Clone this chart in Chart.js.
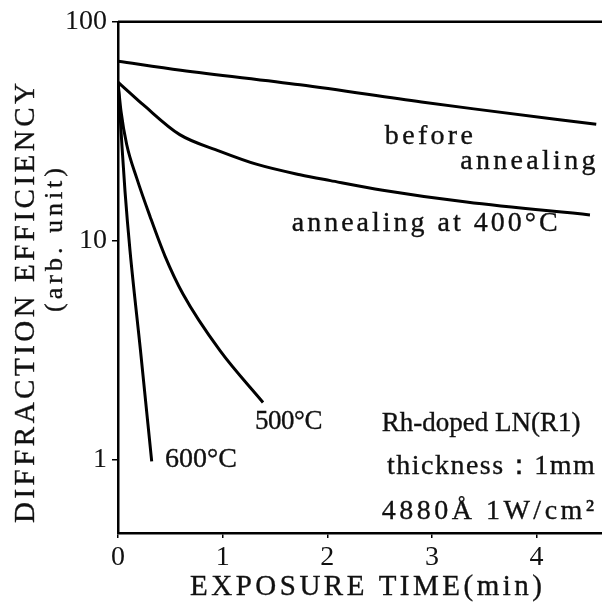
<!DOCTYPE html>
<html>
<head>
<meta charset="utf-8">
<script src="https://cdn.jsdelivr.net/npm/chart.js@4.4.0/dist/chart.umd.min.js"></script>
<style>
  html, body { margin: 0; padding: 0; background: #fff; }
  #wrap { width: 602px; height: 605px; }
</style>
</head>
<body>
<div id="wrap"><canvas id="decay" width="602" height="605"></canvas></div>
<script>
// exposure time (min) vs. diffraction efficiency (arb. unit)
const beforeTime = [0, 0.6, 1.74, 2.9, 3.4, 4.57];
const beforeEff  = [66, 60, 51.5, 43, 40, 34];
const time400 = [0, 0.1, 0.24, 0.59, 0.975, 1.33, 1.74, 2.03, 2.53, 3.33, 4.51];
const eff400  = [53, 48, 41.8, 30.5, 25.6, 22.3, 20.0, 18.8, 17.0, 15.0, 13.1];
const time500 = [0, 0.029, 0.083, 0.179, 0.306, 0.449, 0.621, 0.975, 1.386];
const eff500  = [53, 38.9, 27.5, 19.3, 12.9, 8.5, 5.7, 3.14, 1.82];
const time600 = [0, 0.019, 0.038, 0.067, 0.115, 0.215, 0.322];
const eff600  = [53, 38.1, 27.0, 16.8, 8.97, 3.14, 0.98];

const xTicks = [0, 1, 2, 3, 4];
const yTicks = [1, 10, 100];

const SERIF = '"Liberation Serif", "DejaVu Serif", serif';

// curve captions, anchored in data units (time, efficiency)
const notes = [
  { text: 'before', t: 2.55, v: 29.9, size: 28, gap: 3.3 },
  { text: 'annealing', t: 3.27, v: 23.0, size: 28, gap: 3.3 },
  { text: 'annealing at 400°C', t: 1.66, v: 11.9, size: 28, gap: 3 },
  { text: '500°C', t: 1.31, v: 1.48, size: 27, gap: -0.5 },
  { text: '600°C', t: 0.45, v: 1.0, size: 28, gap: 0 },
  { text: 'Rh-doped LN(R1)', t: 2.52, v: 1.46, size: 27, gap: 0 },
  { text: 'thickness：1mm', t: 2.57, v: 0.925, size: 28, gap: 1.5 },
  { text: '4880Å 1W/cm²', t: 2.52, v: 0.577, size: 28, gap: 3.5 }
];

function pts(xs, ys) {
  return xs.map((x, i) => ({ x: x, y: ys[i] }));
}

// letter-spaced text, one glyph at a time; x is the left edge or the centre
function spaced(ctx, str, x, y, gap, centred) {
  const chars = Array.from(str);
  const widths = chars.map(c => ctx.measureText(c).width);
  const total = widths.reduce((a, b) => a + b, 0) + gap * (chars.length - 1);
  let cx = centred ? x - total / 2 : x;
  ctx.textAlign = 'left';
  chars.forEach((c, i) => {
    ctx.fillText(c, cx, y);
    ctx.strokeText(c, cx, y);   // hairline so the serif reads a bit heavier
    cx += widths[i] + gap;
  });
}

const textLayer = {
  id: 'textLayer',
  afterDraw(chart) {
    const { ctx, chartArea } = chart;
    const xs = chart.scales.x, ys = chart.scales.y;
    ctx.save();

    // top edge of the frame
    ctx.strokeStyle = '#000';
    ctx.lineWidth = 2.5;
    ctx.beginPath();
    ctx.moveTo(chartArea.left, chartArea.top);
    ctx.lineTo(chartArea.right, chartArea.top);
    ctx.stroke();

    ctx.fillStyle = '#111';
    ctx.strokeStyle = '#111';
    ctx.lineWidth = 0.35;
    ctx.textBaseline = 'middle';
    notes.forEach(n => {
      ctx.font = n.size + 'px ' + SERIF;
      spaced(ctx, n.text, xs.getPixelForValue(n.t), ys.getPixelForValue(n.v), n.gap, false);
    });

    // axis titles
    ctx.font = '29px ' + SERIF;
    spaced(ctx, 'EXPOSURE TIME(min)', 366, 587, 3.5, true);

    ctx.save();
    ctx.translate(26, 303);
    ctx.rotate(-Math.PI / 2);
    spaced(ctx, 'DIFFRACTION EFFICIENCY', 0, 0, 3.5, true);
    ctx.restore();

    ctx.save();
    ctx.translate(55, 240);
    ctx.rotate(-Math.PI / 2);
    ctx.font = '26px ' + SERIF;
    spaced(ctx, '(arb. unit)', 0, 0, 4, true);
    ctx.restore();

    ctx.restore();
  }
};

const line = (data) => ({
  data: data,
  borderColor: '#000',
  borderWidth: 3,
  pointRadius: 0,
  fill: false,
  cubicInterpolationMode: 'monotone'
});

new Chart(document.getElementById('decay'), {
  type: 'line',
  data: {
    datasets: [
      line(pts(beforeTime, beforeEff)),
      line(pts(time400, eff400)),
      line(pts(time500, eff500)),
      line(pts(time600, eff600))
    ]
  },
  options: {
    responsive: false,
    animation: false,
    layout: { padding: { top: 20, right: 0, bottom: 0, left: 0 } },
    plugins: { legend: { display: false }, tooltip: { enabled: false } },
    scales: {
      x: {
        type: 'linear',
        min: 0,
        max: 4.625,
        afterBuildTicks: s => { s.ticks = xTicks.map(v => ({ value: v })); },
        afterFit: s => { s.height = 72; },
        grid: { display: true, drawOnChartArea: false, drawTicks: true, tickLength: 5, color: '#000', lineWidth: 1.5 },
        border: { display: true, color: '#000', width: 2.5 },
        ticks: { color: '#111', font: { family: SERIF, size: 28 }, padding: 3, maxRotation: 0, callback: v => String(v) }
      },
      y: {
        type: 'logarithmic',
        min: 0.461,
        max: 100,
        afterBuildTicks: s => { s.ticks = yTicks.map(v => ({ value: v })); },
        afterFit: s => { s.width = 118; },
        grid: { display: true, drawOnChartArea: false, drawTicks: true, tickLength: 6, color: '#000', lineWidth: 1.5 },
        border: { display: true, color: '#000', width: 2.5 },
        ticks: { color: '#111', font: { family: SERIF, size: 28 }, padding: 5, callback: v => String(v) }
      }
    }
  },
  plugins: [textLayer]
});
</script>
</body>
</html>
